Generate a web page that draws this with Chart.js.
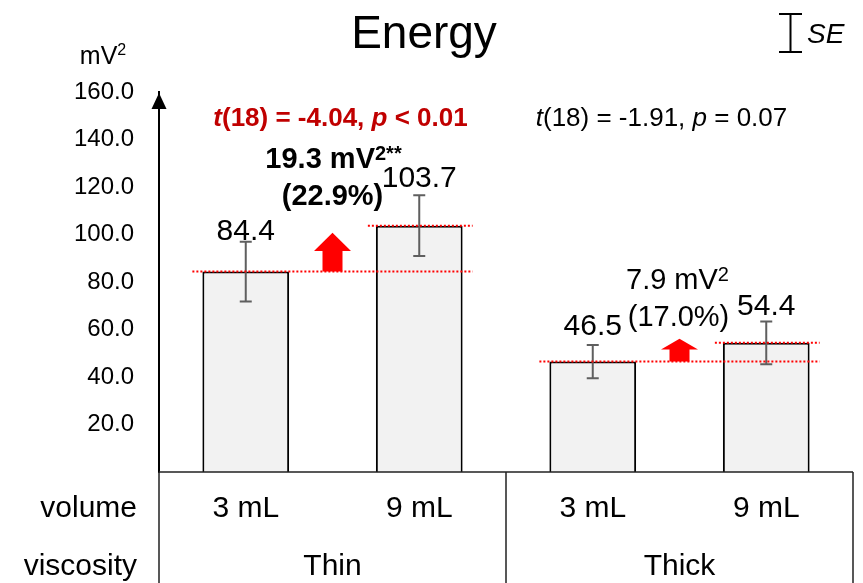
<!DOCTYPE html>
<html>
<head>
<meta charset="utf-8">
<script src="https://cdn.jsdelivr.net/npm/chart.js@4"></script>
<style>
  body { margin: 0; background: #fff; }
  .wrap { width: 863px; height: 583px; position: relative; }
</style>
</head>
<body>
<div class="wrap"><canvas id="energyChart"></canvas></div>
<script>
// data
const volumes = ['3 mL', '9 mL', '3 mL', '9 mL'];
const viscosity = ['Thin', 'Thick'];
const energyMean = [84.4, 103.7, 46.5, 54.4];
const energySE = [12.6, 12.8, 7.0, 9.0];
const yTickStep = 20;
const yMax = 160;

const FONT = "'Liberation Sans', Arial, sans-serif";
Chart.defaults.font.family = FONT;
Chart.defaults.color = '#000';

// label lift above the error bar, arrow top tweak (px)
const labelLift = [10, 17, 18, 15];
const arrowTopAdj = [7, -4];

// draws a line of mixed fonts centred on cx
function drawRich(ctx, parts, cx, cy, color) {
  ctx.save();
  ctx.fillStyle = color;
  ctx.textBaseline = 'middle';
  ctx.textAlign = 'left';
  let total = 0;
  parts.forEach(p => { ctx.font = p.f; p.w = ctx.measureText(p.t).width; total += p.w; });
  let x = cx - total / 2;
  parts.forEach(p => {
    ctx.font = p.f;
    ctx.fillText(p.t, x, cy + (p.dy || 0));
    x += p.w;
  });
  ctx.restore();
}

function upArrow(ctx, cx, yBottom, yTop) {
  const len = yBottom - yTop;
  const head = len * 0.47;
  ctx.save();
  ctx.fillStyle = '#FF0000';
  ctx.beginPath();
  ctx.moveTo(cx - 10, yBottom);
  ctx.lineTo(cx - 10, yTop + head);
  ctx.lineTo(cx - 18.5, yTop + head);
  ctx.lineTo(cx, yTop);
  ctx.lineTo(cx + 18.5, yTop + head);
  ctx.lineTo(cx + 10, yTop + head);
  ctx.lineTo(cx + 10, yBottom);
  ctx.closePath();
  ctx.fill();
  ctx.restore();
}

const extras = {
  id: 'extras',
  afterDatasetsDraw(chart) {
    const ctx = chart.ctx;
    const y = chart.scales.y;
    const x2 = chart.scales.x2;
    const bars = chart.getDatasetMeta(0).data;

    // error bars
    ctx.save();
    ctx.strokeStyle = '#5f5f5f';
    ctx.lineWidth = 2;
    bars.forEach((b, i) => {
      const top = y.getPixelForValue(energyMean[i] + energySE[i]);
      const bot = y.getPixelForValue(energyMean[i] - energySE[i]);
      ctx.beginPath();
      ctx.moveTo(b.x, top); ctx.lineTo(b.x, bot);
      ctx.moveTo(b.x - 6, top); ctx.lineTo(b.x + 6, top);
      ctx.moveTo(b.x - 6, bot); ctx.lineTo(b.x + 6, bot);
      ctx.stroke();
    });
    ctx.restore();

    // value labels
    ctx.save();
    ctx.fillStyle = '#000';
    ctx.font = '30px ' + FONT;
    ctx.textAlign = 'center';
    ctx.textBaseline = 'middle';
    bars.forEach((b, i) => {
      const top = y.getPixelForValue(energyMean[i] + energySE[i]);
      ctx.fillText(energyMean[i].toFixed(1), b.x, top - labelLift[i]);
    });
    ctx.restore();

    // red dotted reference lines and arrows for each pair
    ctx.save();
    ctx.strokeStyle = '#FF0000';
    ctx.lineWidth = 2;
    ctx.setLineDash([2, 2]);
    for (let g = 0; g < 2; g++) {
      const a = bars[g * 2], b = bars[g * 2 + 1];
      const half = a.width / 2;
      const yLow = y.getPixelForValue(energyMean[g * 2]);
      const yHigh = y.getPixelForValue(energyMean[g * 2 + 1]);
      ctx.beginPath();
      ctx.moveTo(a.x - half - 10, yLow); ctx.lineTo(b.x + half + 10, yLow);
      ctx.moveTo(b.x - half - 8, yHigh); ctx.lineTo(b.x + half + 10, yHigh);
      ctx.stroke();
    }
    ctx.restore();
    for (let g = 0; g < 2; g++) {
      const yLow = y.getPixelForValue(energyMean[g * 2]);
      const yHigh = y.getPixelForValue(energyMean[g * 2 + 1]);
      upArrow(ctx, (bars[g * 2].x + bars[g * 2 + 1].x) / 2, yLow, yHigh + arrowTopAdj[g]);
    }

    // t-test annotations
    const thinX = x2.getPixelForValue(0);
    const thickX = x2.getPixelForValue(1);
    const rb = 'bold 26px ' + FONT, ri = 'italic bold 26px ' + FONT;
    drawRich(ctx, [
      { t: 't', f: ri }, { t: '(18) = -4.04, ', f: rb },
      { t: 'p', f: ri }, { t: ' < 0.01', f: rb }
    ], thinX + 8, 119, '#C00000');
    const n = '26px ' + FONT, ni = 'italic 26px ' + FONT;
    drawRich(ctx, [
      { t: 't', f: ni }, { t: '(18) = -1.91, ', f: n },
      { t: 'p', f: ni }, { t: ' = 0.07', f: n }
    ], thickX - 18, 119, '#000');

    const b29 = 'bold 29px ' + FONT, bs = 'bold 20px ' + FONT;
    drawRich(ctx, [
      { t: '19.3 mV', f: b29 }, { t: '2**', f: bs, dy: -6 }
    ], thinX + 1, 160, '#000');
    drawRich(ctx, [{ t: '(22.9%)', f: b29 }], thinX, 197, '#000');

    const r29 = '29px ' + FONT, rs = '20px ' + FONT;
    drawRich(ctx, [
      { t: '7.9 mV', f: r29 }, { t: '2', f: rs, dy: -6 }
    ], thickX - 2, 281, '#000');
    drawRich(ctx, [{ t: '(17.0%)', f: r29 }], thickX - 1, 318, '#000');
  },
  afterDraw(chart) {
    const ctx = chart.ctx;
    const area = chart.chartArea;
    const xs = chart.scales.x;
    const H = chart.height;

    // title
    ctx.save();
    ctx.fillStyle = '#000';
    ctx.textAlign = 'center';
    ctx.textBaseline = 'middle';
    ctx.font = '46px ' + FONT;
    ctx.fillText('Energy', 424, 35);
    ctx.restore();

    // unit label
    drawRich(ctx, [
      { t: 'mV', f: '25px ' + FONT }, { t: '2', f: '16px ' + FONT, dy: -6 }
    ], 103, 57, '#000');

    // SE legend
    ctx.save();
    ctx.strokeStyle = '#000';
    ctx.lineWidth = 2;
    ctx.beginPath();
    ctx.moveTo(790.5, 14); ctx.lineTo(790.5, 52);
    ctx.moveTo(779, 14); ctx.lineTo(802, 14);
    ctx.moveTo(779, 52); ctx.lineTo(802, 52);
    ctx.stroke();
    ctx.fillStyle = '#000';
    ctx.font = 'italic 28px ' + FONT;
    ctx.textAlign = 'left';
    ctx.textBaseline = 'middle';
    ctx.fillText('SE', 807, 35);
    ctx.restore();

    // y axis arrow head
    ctx.save();
    ctx.fillStyle = '#000';
    ctx.beginPath();
    ctx.moveTo(area.left, area.top + 1);
    ctx.lineTo(area.left - 7.5, area.top + 17);
    ctx.lineTo(area.left + 7.5, area.top + 17);
    ctx.closePath();
    ctx.fill();
    ctx.restore();

    // table lines
    const mid = (xs.getPixelForValue(1) + xs.getPixelForValue(2)) / 2;
    ctx.save();
    ctx.strokeStyle = '#222';
    ctx.lineWidth = 1.5;
    ctx.beginPath();
    ctx.moveTo(area.left, area.bottom); ctx.lineTo(area.right, area.bottom);
    ctx.moveTo(area.left, area.bottom); ctx.lineTo(area.left, H);
    ctx.moveTo(mid, area.bottom); ctx.lineTo(mid, H);
    ctx.moveTo(area.right, area.bottom); ctx.lineTo(area.right, H);
    ctx.stroke();

    // row headers
    ctx.fillStyle = '#000';
    ctx.font = '30px ' + FONT;
    ctx.textAlign = 'right';
    ctx.textBaseline = 'middle';
    ctx.fillText('volume', 137, 509);
    ctx.fillText('viscosity', 137, 567);
    ctx.restore();
  }
};

const ctx = document.getElementById('energyChart');
const energyChart = new Chart(ctx, {
  type: 'bar',
  data: {
    labels: volumes,
    datasets: [{
      label: 'Energy',
      data: energyMean,
      backgroundColor: '#F2F2F2',
      borderColor: '#000',
      borderWidth: 2,
      barPercentage: 1,
      categoryPercentage: 0.5
    }]
  },
  options: {
    responsive: true,
    maintainAspectRatio: false,
    animation: false,
    layout: { padding: { top: 92, right: 10, left: 0, bottom: 0 } },
    plugins: {
      legend: { display: false },
      tooltip: { enabled: false },
      title: { display: false }
    },
    scales: {
      y: {
        min: 0,
        max: yMax,
        ticks: {
          stepSize: yTickStep,
          padding: 25,
          font: { size: 24 },
          color: '#000',
          callback: v => v === 0 ? '' : v.toFixed(1)
        },
        grid: { display: false, drawTicks: false },
        border: { display: true, color: '#000', width: 2 },
        afterFit: s => { s.width = 159; }
      },
      x: {
        weight: 0,
        ticks: { padding: 19, font: { size: 30 }, color: '#000', maxRotation: 0 },
        grid: { display: false, drawTicks: false },
        border: { display: false },
        afterFit: s => { s.height = 58; }
      },
      x2: {
        type: 'category',
        position: 'bottom',
        weight: 1,
        labels: viscosity,
        offset: true,
        ticks: { padding: 19, font: { size: 30 }, color: '#000', maxRotation: 0 },
        grid: { display: false, drawTicks: false },
        border: { display: false },
        afterFit: s => { s.height = 53; }
      }
    }
  },
  plugins: [extras]
});
</script>
</body>
</html>
